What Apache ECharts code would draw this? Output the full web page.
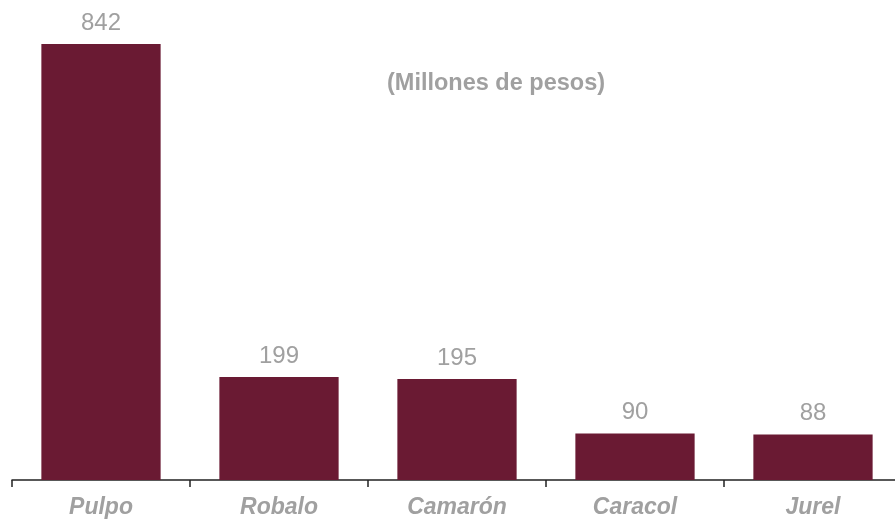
<!DOCTYPE html>
<html>
<head>
<meta charset="utf-8">
<script src="https://cdn.jsdelivr.net/npm/echarts@6/dist/echarts.min.js"></script>
<style>html,body{margin:0;padding:0;background:#fff;overflow:hidden;width:895px;height:520px;}#c{width:902px;height:520px;}</style>
</head>
<body>
<div id="c"></div>
<script>
const categories = ['Pulpo', 'Robalo', 'Camarón', 'Caracol', 'Jurel'];
const values = [842, 199, 195, 90, 88];
const subtitle = '(Millones de pesos)';

const chart = echarts.init(document.getElementById('c'), null, {renderer: 'canvas'});
chart.setOption({
  animation: false,
  backgroundColor: '#ffffff',
  title: {
    text: subtitle,
    left: 382, top: 67,
    textStyle: {fontFamily: 'Liberation Sans, Arial, sans-serif', fontSize: 23.5, fontWeight: 'bold', color: '#a0a0a0'}
  },
  grid: {left: 12, right: 0, top: 14, height: 466, containLabel: false},
  xAxis: {
    type: 'category',
    data: categories,
    axisLine: {lineStyle: {color: '#222', width: 1.5}},
    axisTick: {show: true, length: 7, lineStyle: {color: '#222', width: 1.5}},
    axisLabel: {fontFamily: 'Liberation Sans, Arial, sans-serif', fontSize: 23, fontWeight: 'bold', fontStyle: 'italic', color: '#a0a0a0', margin: 16}
  },
  yAxis: {
    type: 'value', min: 0, max: 900, show: false,
    splitLine: {show: false}
  },
  series: [{
    type: 'bar',
    data: values,
    barCategoryGap: '33%',
    itemStyle: {color: '#6a1a33'},
    label: {show: true, position: 'top', distance: 9, fontFamily: 'Liberation Sans, Arial, sans-serif', fontSize: 24, color: '#a0a0a0'}
  }]
});
</script>
</body>
</html>
